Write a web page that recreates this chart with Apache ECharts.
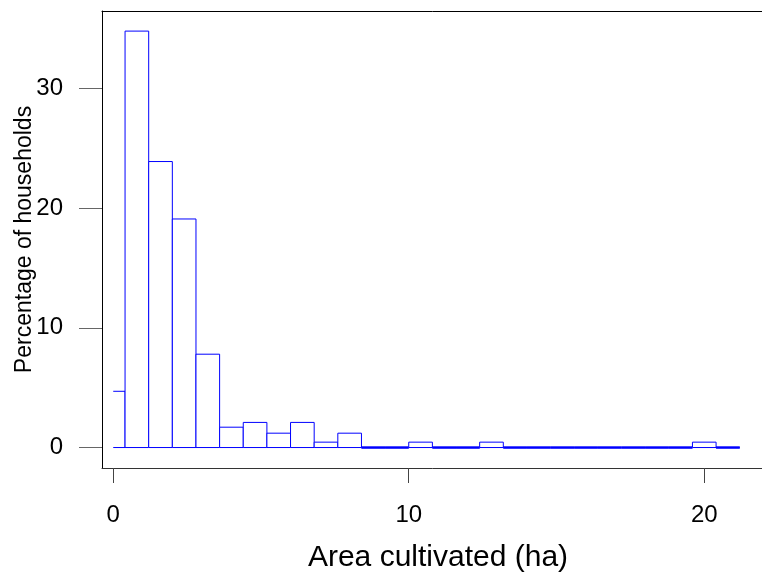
<!DOCTYPE html>
<html>
<head>
<meta charset="utf-8">
<title>Area cultivated</title>
<script src="https://cdn.jsdelivr.net/npm/echarts@6/dist/echarts.min.js"></script>
<style>
  html, body { margin: 0; padding: 0; background: #fff; }
  #chart { width: 762px; height: 576px; }
</style>
</head>
<body>
<div id="chart"></div>
<script>
// histogram bins (ha) and percentage of households in each
var binLo = [0, 0.4, 1.2, 2.0, 2.8, 3.6, 4.4, 5.2, 6.0, 6.8, 7.6, 8.4, 9.2, 10.0,
  10.8, 11.6, 12.4, 13.2, 14.0, 14.8, 15.6, 16.4, 17.2, 18.0, 18.8, 19.6, 20.4];
var binHi = [0.4, 1.2, 2.0, 2.8, 3.6, 4.4, 5.2, 6.0, 6.8, 7.6, 8.4, 9.2, 10.0, 10.8,
  11.6, 12.4, 13.2, 14.0, 14.8, 15.6, 16.4, 17.2, 18.0, 18.8, 19.6, 20.4, 21.2];
var pct = [4.7, 34.8, 23.9, 19.1, 7.8, 1.7, 2.1, 1.2, 2.1, 0.45, 1.2, 0, 0, 0.45,
  0, 0, 0.45, 0, 0, 0, 0, 0, 0, 0, 0, 0.45, 0];

var xTicks = [0, 10, 20];
var yTicks = [0, 10, 20, 30];

var font = 'Liberation Sans, Arial, Helvetica, sans-serif';

var rows = binLo.map(function (lo, i) { return [lo, binHi[i], pct[i]]; });

var chart = echarts.init(document.getElementById('chart'));

chart.setOption({
  animation: false,
  grid: {
    left: 102, right: -12, top: 11, bottom: 108,
    outerBoundsMode: 'none',
    containLabel: false,
    show: false
  },
  xAxis: [{
    type: 'value',
    min: -0.38, max: 22.36,
    name: 'Area cultivated (ha)',
    nameLocation: 'middle',
    nameGap: 75,
    nameMoveOverlap: false,
    nameTextStyle: { fontFamily: font, fontSize: 30, color: '#000' },
    axisLine: { show: true, onZero: false, lineStyle: { color: '#333', width: 1 } },
    axisTick: { show: true, length: 15, customValues: xTicks, lineStyle: { color: '#444' } },
    axisLabel: { customValues: xTicks, margin: 35, fontFamily: font, fontSize: 24, color: '#000' },
    splitLine: { show: false }
  }, {
    // top edge of the box
    type: 'value', position: 'top',
    min: -0.38, max: 22.36,
    axisLine: { show: true, onZero: false, lineStyle: { color: '#000', width: 1 } },
    axisTick: { show: false }, axisLabel: { show: false }, splitLine: { show: false }
  }],
  yAxis: {
    type: 'value',
    min: -1.71, max: 36.48,
    name: 'Percentage of households',
    nameLocation: 'middle',
    nameGap: 66,
    nameRotate: 90,
    nameMoveOverlap: false,
    nameTextStyle: { fontFamily: font, fontSize: 23, color: '#000' },
    axisLine: { show: true, onZero: false, lineStyle: { color: '#000', width: 1 } },
    axisTick: { show: true, length: 23, customValues: yTicks, lineStyle: { color: '#666' } },
    axisLabel: { customValues: yTicks, margin: 39, fontFamily: font, fontSize: 24, color: '#000' },
    splitLine: { show: false }
  },
  series: [{
    type: 'custom',
    data: rows,
    encode: { x: [0, 1], y: 2 },
    clip: true,
    renderItem: function (params, api) {
      var p0 = api.coord([api.value(0), 0]);
      var p1 = api.coord([api.value(1), api.value(2)]);
      var x0 = p0[0], x1 = p1[0], yb = p0[1], yt = p1[1];
      var pts = params.dataIndex === 0
        ? [[x0, yt], [x1, yt], [x1, yb]]
        : [[x0, yb], [x0, yt], [x1, yt], [x1, yb]];
      var flat = api.value(2) === 0;
      return {
        type: 'group',
        children: [
          { type: 'rect', shape: { x: x0, y: yt, width: x1 - x0, height: yb - yt },
            style: { fill: '#fff' } },
          { type: 'polyline', shape: { points: pts },
            style: { stroke: '#0000ff', lineWidth: flat ? 2 : 1, fill: null } },
          { type: 'line', shape: { x1: x0, y1: yb, x2: x1, y2: yb },
            style: { stroke: '#0000ff', lineWidth: flat ? 2 : 1 } }
        ]
      };
    }
  }]
});
</script>
</body>
</html>
